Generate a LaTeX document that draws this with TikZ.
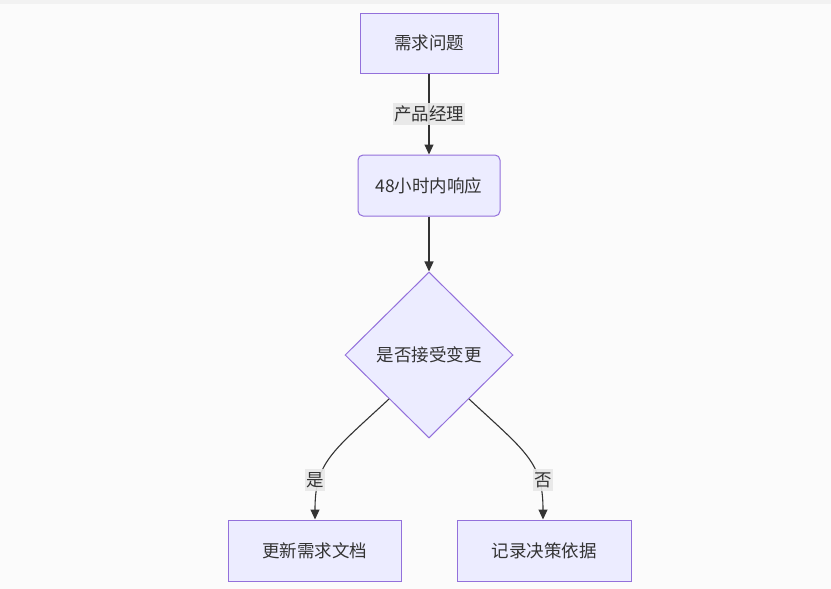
\documentclass[tikz,border=0pt]{standalone}
\usepackage{fontspec}
\setmainfont{Noto Sans CJK SC}
\usetikzlibrary{shapes.geometric,arrows.meta}
\definecolor{nodefill}{HTML}{ECECFF}
\definecolor{nodeline}{HTML}{9370DB}
\definecolor{edgeline}{HTML}{333333}
\definecolor{labelbg}{HTML}{E8E8E8}
\definecolor{bgcol}{HTML}{FBFBFB}
\definecolor{topstrip}{HTML}{F2F2F2}
\tikzset{
  box/.style={draw=nodeline, fill=nodefill, line width=1pt, inner sep=0pt,
    text=edgeline, font=\fontsize{17.5}{20}\selectfont},
  rbox/.style={box, rounded corners=5pt},
  decision/.style={box, diamond, aspect=1},
  elabel/.style={fill=labelbg, fill opacity=0.9, text opacity=1, text=edgeline,
    inner xsep=1pt, inner ysep=3pt, font=\fontsize{17.5}{20}\selectfont},
  conn/.style={draw=edgeline, line width=1.1pt, -{Triangle[length=10pt,width=9pt]}},
}
\begin{document}
\begin{tikzpicture}[x=1pt,y=-1pt]
\fill[bgcol] (0,0) rectangle (831,589);
\fill[topstrip] (0,0) rectangle (831,4);
\useasboundingbox (0,0) rectangle (831,589);
\node[box, minimum width=138pt, minimum height=60pt] (a) at (429,43) {需求问题};
\node[rbox, minimum width=142pt, minimum height=61pt] (b) at (429,185.5) {48小时内响应};
\node[decision, minimum width=168pt, minimum height=166pt] (c) at (429,355) {是否接受变更};
\node[box, minimum width=173pt, minimum height=61pt] (d) at (314.5,550.5) {更新需求文档};
\node[box, minimum width=174pt, minimum height=61pt] (e) at (544,550.5) {记录决策依据};
\coordinate (cl) at (389,399);
\coordinate (cr) at (469,399);
\draw[conn] (a) -- (b) node[elabel, pos=0.5] (la) {产品经理};
\draw[conn] (b) -- (c);
\draw[conn] (cl) .. controls (332,452) and (315,462) .. (d.north -| 315,0);
\draw[conn] (cr) .. controls (526,452) and (543,462) .. (e.north -| 543,0);
\node[elabel] (ly) at (315,480) {是};
\node[elabel] (ln) at (543,480) {否};
\end{tikzpicture}
\end{document}
